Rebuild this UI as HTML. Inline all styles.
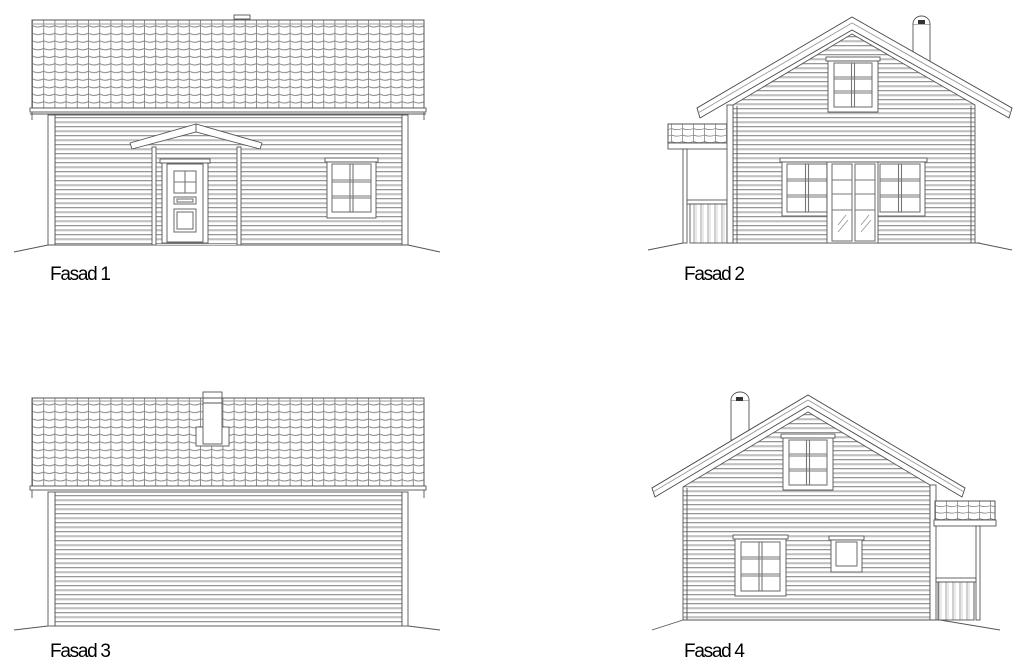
<!DOCTYPE html>
<html><head><meta charset="utf-8"><style>html,body{margin:0;padding:0;background:#fff}svg{display:block}.w{stroke:#777;stroke-width:1.1}</style></head>
<body>
<svg width="1024" height="672" viewBox="0 0 1024 672" xmlns="http://www.w3.org/2000/svg" font-family="Liberation Sans, sans-serif">
<defs>
<pattern id="sid" width="10" height="4.5" patternUnits="userSpaceOnUse">
<rect width="10" height="4.5" fill="#fff"/>
<line x1="0" y1="0.5" x2="10" y2="0.5" stroke="#8a8a8a" stroke-width="0.9"/>
<line x1="0" y1="1.6" x2="10" y2="1.6" stroke="#d0d0d0" stroke-width="0.6"/>
</pattern>
<pattern id="tile" width="11.2" height="7.6" patternUnits="userSpaceOnUse" x="32" y="20">
<rect width="11.2" height="7.6" fill="#fff"/>
<path d="M0.5 0 V7.6 M0.5 5.6 Q5.6 8.6 11.7 5.6" fill="none" stroke="#777" stroke-width="0.8"/>
</pattern>
<pattern id="tile3" width="11.2" height="7.6" patternUnits="userSpaceOnUse" x="32" y="398">
<rect width="11.2" height="7.6" fill="#fff"/>
<path d="M0.5 0 V7.6 M0.5 5.6 Q5.6 8.6 11.7 5.6" fill="none" stroke="#777" stroke-width="0.8"/>
</pattern>
<pattern id="tileS" width="11" height="6.5" patternUnits="userSpaceOnUse">
<rect width="11" height="6.5" fill="#fff"/>
<path d="M0.5 0 V6.5 M0.5 5 Q5.5 7.3 11.5 5" fill="none" stroke="#777" stroke-width="0.7"/>
</pattern>
<pattern id="rail" width="7" height="10" patternUnits="userSpaceOnUse">
<rect width="7" height="10" fill="#fff"/><line x1="1" y1="0" x2="1" y2="10" stroke="#888" stroke-width="0.8"/><line x1="3" y1="0" x2="3" y2="10" stroke="#bbb" stroke-width="0.6"/>
</pattern>
</defs>
<g stroke="#555" stroke-width="0.9" fill="none">

<!-- ===== FASAD 1 ===== -->
<rect x="32" y="20" width="392" height="88" fill="url(#tile)"/>
<rect x="32" y="20" width="392" height="88"/>
<line x1="32" y1="24" x2="424" y2="24" stroke="#999"/>
<rect x="234" y="15" width="16" height="4" fill="#fff"/>
<rect x="30" y="108" width="396" height="4" fill="#fff"/>
<line x1="30" y1="114" x2="426" y2="114"/>
<line x1="32" y1="112" x2="32" y2="120"/><line x1="424" y1="112" x2="424" y2="120"/>
<rect x="55" y="115" width="347" height="130" fill="url(#sid)"/>
<rect x="48" y="115" width="7" height="130" fill="#fff"/><rect x="402" y="115" width="6" height="130" fill="#fff"/>
<line x1="48" y1="245" x2="408" y2="245"/>
<polyline points="14,252 48,245"/><polyline points="408,245 440,252"/>
<rect x="152" y="148" width="89" height="97" fill="url(#sid)" stroke="none"/>
<rect x="152" y="147" width="4" height="98" fill="#fff"/><rect x="237" y="147" width="4" height="98" fill="#fff"/>
<polygon points="196,124 130,143 132,149 196,132 260,149 262,143" fill="#fff"/>
<line x1="196" y1="124" x2="196" y2="132"/>
<rect x="160" y="159" width="50" height="4" fill="#fff"/>
<rect x="162" y="163" width="46" height="80" fill="#fff"/>
<rect x="167" y="164" width="36" height="78" fill="#fff"/>
<g class="w">
<rect x="174" y="171" width="22" height="22"/><line x1="185" y1="171" x2="185" y2="193"/><line x1="174" y1="182" x2="196" y2="182"/>
<rect x="174" y="197" width="22" height="7"/><rect x="177" y="199" width="16" height="3"/>
<rect x="174" y="209" width="22" height="23"/><rect x="177" y="212" width="16" height="17"/>
</g>
<rect x="325" y="158" width="53" height="4" fill="#fff"/>
<rect x="327" y="162" width="49" height="56" fill="#fff"/>
<g class="w">
<rect x="332" y="164" width="39" height="48"/>
<rect x="350" y="164" width="3" height="48"/>
<line x1="332" y1="180" x2="371" y2="180"/><line x1="332" y1="182" x2="371" y2="182"/><line x1="332" y1="196" x2="371" y2="196"/><line x1="332" y1="198" x2="371" y2="198"/>
</g>
<text x="50" y="280" font-size="19" fill="#000" stroke="none" textLength="61">Fasad 1</text>

<!-- ===== FASAD 3 ===== -->
<rect x="32" y="398" width="392" height="88" fill="url(#tile3)"/>
<rect x="32" y="398" width="392" height="88"/>
<line x1="32" y1="401" x2="424" y2="401" stroke="#999"/>
<rect x="196" y="427" width="33" height="19" fill="#fff"/>
<rect x="203" y="392" width="19" height="52" fill="#fff"/>
<line x1="203" y1="398" x2="222" y2="398"/><line x1="203" y1="403" x2="222" y2="403"/>
<rect x="30" y="486" width="396" height="4" fill="#fff"/>
<line x1="32" y1="490" x2="32" y2="498"/><line x1="424" y1="490" x2="424" y2="498"/>
<rect x="55" y="492" width="347" height="134" fill="url(#sid)"/>
<rect x="48" y="492" width="7" height="134" fill="#fff"/><rect x="402" y="492" width="6" height="134" fill="#fff"/>
<polyline points="14,630 48,626"/><polyline points="408,626 440,630"/>
<text x="50" y="657" font-size="19" fill="#000" stroke="none" textLength="61">Fasad 3</text>

<!-- ===== FASAD 2 ===== -->
<rect x="913" y="24" width="17" height="38" fill="#fff"/>
<path d="M913 24 A8.5 8 0 0 1 930 24" fill="#fff"/>
<rect x="918" y="20" width="7" height="4" fill="#333" stroke="none"/>
<polygon points="733,243 733,105 852,34 975,105 975,243" fill="url(#sid)"/>
<line x1="737" y1="106" x2="737" y2="243"/><line x1="971" y1="106" x2="971" y2="243"/>
<polygon points="852,17 697,108 700,118 852,30 1009,118 1012,108" fill="#fff" stroke="#444"/>
<line x1="852" y1="23" x2="698" y2="113" stroke="#999"/><line x1="852" y1="23" x2="1011" y2="113" stroke="#999"/>
<line x1="725" y1="243" x2="980" y2="243"/>
<polyline points="648,250 683,243"/><polyline points="978,243 1012,250"/>
<rect x="668" y="124" width="60" height="19" fill="url(#tileS)"/>
<rect x="668" y="124" width="60" height="19"/>
<rect x="668" y="143" width="62" height="6" fill="#fff"/>
<rect x="683" y="149" width="4" height="94" fill="#fff"/>
<rect x="687" y="200" width="43" height="4" fill="#fff"/>
<rect x="690" y="204" width="37" height="39" fill="url(#rail)"/>
<rect x="727" y="105" width="6" height="138" fill="#fff"/>
<rect x="826" y="57" width="54" height="4" fill="#fff"/>
<rect x="828" y="61" width="50" height="51" fill="#fff"/>
<g class="w">
<rect x="834" y="63" width="38" height="44"/>
<rect x="851.5" y="63" width="3" height="44"/><line x1="834" y1="77" x2="872" y2="77"/><line x1="834" y1="79" x2="872" y2="79"/><line x1="834" y1="91" x2="872" y2="91"/><line x1="834" y1="93" x2="872" y2="93"/>
</g>
<rect x="780" y="158" width="147" height="4" fill="#fff"/>
<rect x="782" y="162" width="48" height="54" fill="#fff"/>
<rect x="877" y="162" width="48" height="54" fill="#fff"/>
<g class="w">
<rect x="787" y="164" width="40" height="48"/>
<rect x="805.5" y="164" width="3" height="48"/><line x1="787" y1="179" x2="827" y2="179"/><line x1="787" y1="181" x2="827" y2="181"/><line x1="787" y1="195" x2="827" y2="195"/><line x1="787" y1="197" x2="827" y2="197"/>
<rect x="880" y="164" width="40" height="48"/>
<rect x="898.5" y="164" width="3" height="48"/><line x1="880" y1="179" x2="920" y2="179"/><line x1="880" y1="181" x2="920" y2="181"/><line x1="880" y1="195" x2="920" y2="195"/><line x1="880" y1="197" x2="920" y2="197"/>
</g>
<rect x="827" y="162" width="51" height="81" fill="#fff"/>
<g class="w">
<rect x="832" y="164" width="20" height="77"/><rect x="855" y="164" width="20" height="77"/>
<line x1="832" y1="180" x2="852" y2="180"/><line x1="832" y1="194" x2="852" y2="194"/><line x1="832" y1="210" x2="852" y2="210"/>
<line x1="855" y1="180" x2="875" y2="180"/><line x1="855" y1="194" x2="875" y2="194"/><line x1="855" y1="210" x2="875" y2="210"/>
</g>
<path d="M838 225 L846 215 M838 232 L848 220 M861 225 L869 215 M861 232 L871 220" stroke="#999"/>
<text x="684" y="280" font-size="19" fill="#000" stroke="none" textLength="61">Fasad 2</text>

<!-- ===== FASAD 4 ===== -->
<rect x="731" y="400" width="18" height="40" fill="#fff"/>
<path d="M731 400 A9 8 0 0 1 749 400" fill="#fff"/>
<rect x="736" y="397" width="7" height="4" fill="#333" stroke="none"/>
<polygon points="683,620 683,487 808,412 930,485 930,620" fill="url(#sid)"/>
<line x1="687" y1="488" x2="687" y2="620"/>
<polygon points="808,395 652,488 655,497 808,406 962,497 965,488" fill="#fff" stroke="#444"/>
<line x1="808" y1="400" x2="653" y2="492" stroke="#999"/><line x1="808" y1="400" x2="964" y2="492" stroke="#999"/>
<rect x="930" y="485" width="6" height="135" fill="#fff"/>
<line x1="683" y1="620" x2="940" y2="620"/>
<polyline points="652,630 683,620"/><polyline points="940,620 1000,630"/>
<rect x="935" y="501" width="60" height="19" fill="url(#tileS)"/>
<rect x="935" y="501" width="60" height="19"/>
<rect x="934" y="520" width="62" height="6" fill="#fff"/>
<rect x="976" y="526" width="4" height="94" fill="#fff"/>
<rect x="936" y="578" width="40" height="4" fill="#fff"/>
<rect x="938" y="582" width="36" height="38" fill="url(#rail)"/>
<rect x="781" y="434" width="54" height="4" fill="#fff"/>
<rect x="783" y="438" width="50" height="52" fill="#fff"/>
<g class="w">
<rect x="789" y="440" width="38" height="45"/>
<rect x="806.5" y="440" width="3" height="45"/><line x1="789" y1="454" x2="827" y2="454"/><line x1="789" y1="456" x2="827" y2="456"/><line x1="789" y1="469" x2="827" y2="469"/><line x1="789" y1="471" x2="827" y2="471"/>
</g>
<rect x="733" y="535" width="55" height="4" fill="#fff"/>
<rect x="735" y="539" width="51" height="57" fill="#fff"/>
<g class="w">
<rect x="741" y="542" width="39" height="49"/>
<rect x="759" y="542" width="3" height="49"/><line x1="741" y1="557" x2="780" y2="557"/><line x1="741" y1="559" x2="780" y2="559"/><line x1="741" y1="574" x2="780" y2="574"/><line x1="741" y1="576" x2="780" y2="576"/>
</g>
<rect x="829" y="536" width="35" height="4" fill="#fff"/>
<rect x="831" y="540" width="31" height="32" fill="#fff"/>
<rect x="836" y="542" width="21" height="24" class="w"/>
<text x="684" y="657" font-size="19" fill="#000" stroke="none" textLength="61">Fasad 4</text>
</g>
</svg>
</body></html>
